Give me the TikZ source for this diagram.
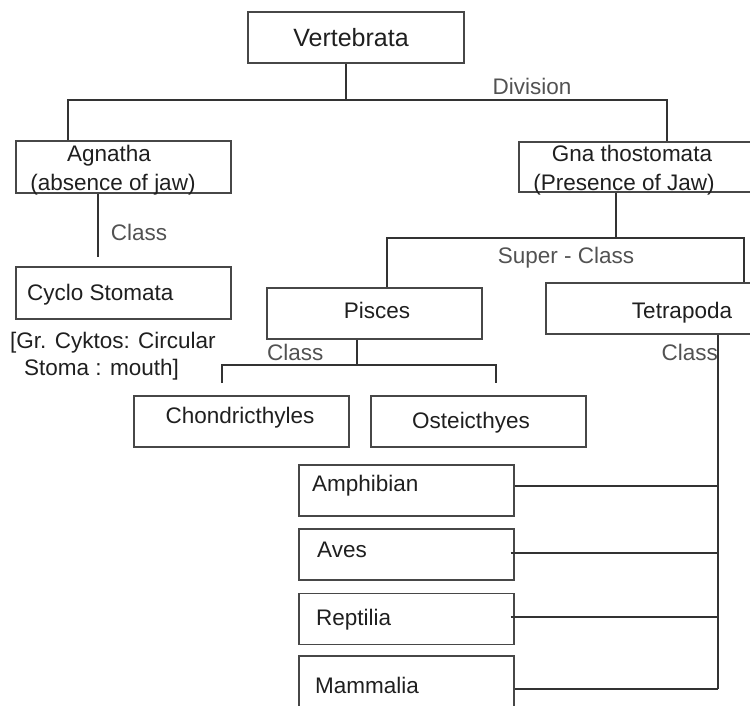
\documentclass[tikz,border=0pt]{standalone}
\usepackage{fontspec}
\setmainfont{Liberation Sans}
\begin{document}
\begin{tikzpicture}[x=1pt,y=-1pt,
  box/.style={draw=black!72,line width=1.3pt,rectangle,minimum width=215pt,minimum height=51pt,inner sep=0pt},
  txt/.style={font=\fontsize{22.5}{27}\selectfont,text=black!88,inner sep=0pt,text height=16pt,text depth=0pt},
  lbl/.style={txt,text=black!68},
  conn/.style={draw=black!80,line width=1.2pt}]
\useasboundingbox (0,0) rectangle (750,705);
% boxes
\node[box,minimum width=216pt] (vert) at (356,37.5) {};
\node[box,minimum height=52pt] (agn) at (123.5,167) {};
\node[box,minimum width=241pt,minimum height=50pt] (gna) at (639.5,167) {};
\node[box,minimum height=52pt] (cyc) at (123.5,293) {};
\node[box] (pis) at (374.5,313.5) {};
\node[box,minimum width=214pt] (tet) at (653,308.5) {};
\node[box] (cho) at (241.5,421.5) {};
\node[box] (ost) at (478.5,421.5) {};
\node[box] (amph) at (406.5,490.5) {};
\node[box] (aves) at (406.5,554.5) {};
\node[box] (rep) at (406.5,619) {};
\node[box] (mam) at (406.5,681.5) {};
% texts
\node[txt,font=\fontsize{25}{30}\selectfont,text height=18pt] (vertT) at (351,37) {Vertebrata};
\node[txt] (agnT1) at (109,153) {Agnatha};
\node[txt] (agnT2) at (113,182) {(absence of jaw)};
\node[txt] (gnaT1) at (632,153) {Gna thostomata};
\node[txt] (gnaT2) at (624,182) {(Presence of Jaw)};
\node[txt,anchor=west] (cycT) at (27,292) {Cyclo Stomata};
\node[txt,anchor=west] (grT1) at (10,340) {[Gr. Cyktos: Circular};
\node[txt,anchor=west] (grT2) at (24,367) {Stoma : mouth]};
\node[txt] (pisT) at (377,310) {Pisces};
\node[txt] (tetT) at (682,310) {Tetrapoda};
\node[txt] (choT) at (240,415) {Chondricthyles};
\node[txt] (ostT) at (471,420) {Osteicthyes};
\node[txt,anchor=west] (amphT) at (312,483) {Amphibian};
\node[txt,anchor=west] (avesT) at (317,549) {Aves};
\node[txt,anchor=west] (repT) at (316,617) {Reptilia};
\node[txt,anchor=west] (mamT) at (315,685) {Mammalia};
% labels
\node[lbl] (divL) at (532,86) {Division};
\node[lbl] (cls1) at (139,232) {Class};
\node[lbl] (supL) at (566,255) {Super - Class};
\node[lbl,anchor=west] (cls2) at (267,352) {Class};
\node[lbl,anchor=east] (cls3) at (718,352) {Class};
% connectors
\coordinate (dM) at (346,100);
\coordinate (dL) at (68,100);
\coordinate (dR) at (667,100);
\draw[conn] (vert.south -| dM) -- (dM);
\draw[conn] (agn.north -| dL) -- (dL) -- (dR) -- (gna.north -| dR);
\coordinate (aEnd) at (98,257);
\draw[conn] (agn.south -| aEnd) -- (aEnd);
\coordinate (sM) at (616,238);
\coordinate (sL) at (387,238);
\coordinate (sR) at (744,238);
\draw[conn] (gna.south -| sM) -- (sM);
\draw[conn] (pis.north -| sL) -- (sL) -- (sR) -- (tet.north -| sR);
\coordinate (pM) at (357,365);
\coordinate (pL) at (222,365);
\coordinate (pR) at (496,365);
\coordinate (pLe) at (222,383);
\coordinate (pRe) at (496,383);
\draw[conn] (pis.south -| pM) -- (pM);
\draw[conn] (pLe) -- (pL) -- (pR) -- (pRe);
\coordinate (tB) at (718,689);
\draw[conn] (tet.south -| tB) -- (tB);
\draw[conn] ([yshift=4.5pt]amph.east) -- ([yshift=4.5pt]amph.east -| tB);
\draw[conn] ([xshift=-4pt,yshift=1.5pt]aves.east) -- ([yshift=1.5pt]aves.east -| tB);
\draw[conn] ([xshift=-4pt,yshift=2pt]rep.east) -- ([yshift=2pt]rep.east -| tB);
\draw[conn] ([yshift=-7.5pt]mam.east) -- ([yshift=-7.5pt]mam.east -| tB);
\end{tikzpicture}
\end{document}
